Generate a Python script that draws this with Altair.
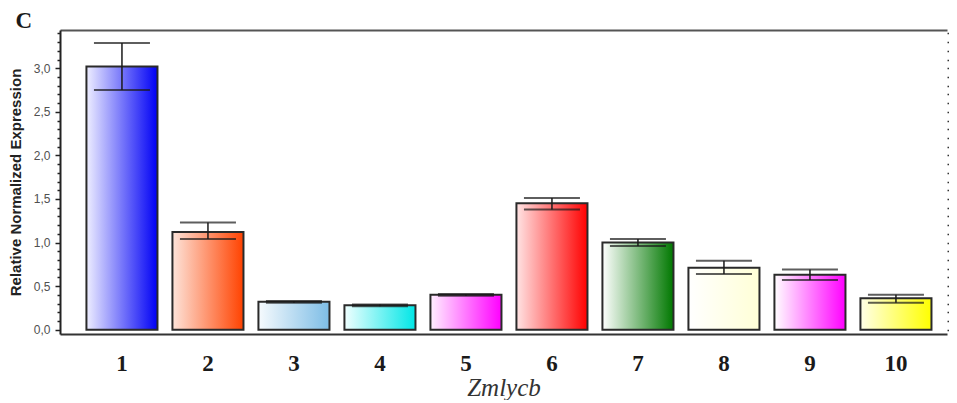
import altair as alt
import pandas as pd

# ---- data ----
categories = ["1", "2", "3", "4", "5", "6", "7", "8", "9", "10"]
means = [3.02, 1.12, 0.32, 0.28, 0.40, 1.45, 1.00, 0.71, 0.63, 0.36]
err_low = [2.75, 1.04, 0.31, 0.27, 0.39, 1.38, 0.96, 0.64, 0.57, 0.31]
err_high = [3.29, 1.23, 0.33, 0.29, 0.41, 1.51, 1.04, 0.79, 0.69, 0.40]

major_ticks = [0.0, 0.5, 1.0, 1.5, 2.0, 2.5, 3.0]
minor_ticks = [0.0, 0.1, 0.2, 0.3, 0.4, 0.5, 0.6, 0.7, 0.8, 0.9,
               1.0, 1.1, 1.2, 1.3, 1.4, 1.5, 1.6, 1.7, 1.8, 1.9,
               2.0, 2.1, 2.2, 2.3, 2.4, 2.5, 2.6, 2.7, 2.8, 2.9,
               3.0, 3.1, 3.2, 3.3, 3.4]

panel_label = "C"

# gradient colours (left -> right) of each bar
grad_start = ["#eeeeff", "#fde4da", "#f6fafd", "#f0ffff", "#fff0ff",
              "#ffe4e4", "#ffffff", "#ffffff", "#ffffff", "#ffffe8"]
grad_end = ["#0000f5", "#ff4200", "#7dbde6", "#00e6e6", "#ff00ff",
            "#ff0000", "#007800", "#ffffd6", "#ff00ff", "#ffff00"]

df = pd.DataFrame({"cat": categories, "mean": means, "lo": err_low, "hi": err_high})

Y_DOMAIN = [-0.05, 3.44]
is_major = "abs(datum.value*2 - round(datum.value*2)) < 0.001"

x_scale = alt.Scale(domain=categories, paddingInner=0.174, paddingOuter=0.244, align=0.63)
y_scale = alt.Scale(domain=Y_DOMAIN, nice=False, zero=False)

x_enc = alt.X(
    "cat:N", sort=categories, scale=x_scale, title="Zmlycb",
    axis=alt.Axis(
        orient="bottom", ticks=False, tickSize=0, labelAngle=0,
        labelFont="Liberation Serif", labelFontSize=23, labelFontWeight="bold",
        labelColor="#1a1a1a", labelPadding=18,
        domainColor="#333333", domainWidth=2,
        titleFont="Liberation Serif", titleFontSize=25, titleFontStyle="italic",
        titleFontWeight="normal", titleColor="#333333",
        titleBaseline="alphabetic", titleY=61,
    ),
)
y_axis = alt.Axis(
    orient="left", values=minor_ticks, grid=False,
    labelExpr=f"{is_major} ? replace(format(datum.value, '.1f'), '.', ',') : ''",
    labelOverlap=False, labelFlush=False,
    labelFont="Liberation Sans", labelFontSize=12, labelColor="#505050",
    labelPadding=5,
    tickColor="#222222", tickWidth=1.5,
    tickSize={"condition": {"test": is_major, "value": 5}, "value": 3},
    domainColor="#222222", domainWidth=2,
    title="Relative Normalized Expression",
    titleFont="Liberation Sans", titleFontSize=15, titleFontWeight="bold",
    titleColor="#222222", titleBaseline="alphabetic", titleX=-40,
)
y_enc = alt.Y("mean:Q", scale=y_scale, axis=y_axis)

base = alt.Chart(df)

bar_layers = []
for cat, c0, c1 in zip(categories, grad_start, grad_end):
    grad = alt.LinearGradient(
        gradient="linear", x1=0, x2=1, y1=0, y2=0,
        stops=[alt.GradientStop(offset=0, color=c0), alt.GradientStop(offset=1, color=c1)],
    )
    bar_layers.append(
        base.transform_filter(alt.datum.cat == cat)
        .mark_bar(fill=grad, stroke="#2a2a2a", strokeWidth=2)
        .encode(x=x_enc, y=y_enc)
    )

err_rule = base.mark_rule(color="#1a1a1a", strokeWidth=1.5).encode(
    x=x_enc, y=alt.Y("lo:Q", scale=y_scale, axis=y_axis), y2="hi:Q"
)
cap_hi = base.mark_tick(color="#1a1a1a", thickness=2, size=56).encode(
    x=x_enc, y=alt.Y("hi:Q", scale=y_scale, axis=y_axis)
)
cap_lo = base.mark_tick(color="#1a1a1a", thickness=2, size=56).encode(
    x=x_enc, y=alt.Y("lo:Q", scale=y_scale, axis=y_axis)
)

inner = alt.layer(*bar_layers, err_rule, cap_hi, cap_lo)

# frame: top border line (carrying the panel letter) and dotted right axis
frame = base.mark_tick(opacity=0).encode(
    x=alt.X("cat:N", sort=categories, scale=alt.Scale(domain=categories),
            title=panel_label,
            axis=alt.Axis(orient="top", ticks=False, labels=False,
                          domainColor="#555555", domainWidth=2,
                          titleFont="Liberation Serif", titleFontSize=23,
                          titleFontWeight="bold", titleColor="#1a1a1a",
                          titleAlign="left", titleAnchor="start",
                          titleBaseline="alphabetic", titleX=-45, titleY=-3)),
    y=alt.Y("mean:Q", scale=alt.Scale(domain=Y_DOMAIN, nice=False, zero=False),
            axis=alt.Axis(orient="right", values=minor_ticks, labels=False, title=None,
                          domain=False, grid=False, tickColor="#333333", tickWidth=1.5,
                          tickSize={"condition": {"test": is_major, "value": 3}, "value": 2})),
)

chart = (
    alt.layer(inner, frame)
    .resolve_scale(x="independent", y="independent")
    .properties(
        width=887, height=304,
        padding={"left": 52, "top": 22, "right": 2, "bottom": 66},
        autosize=alt.AutoSizeParams(type="none"),
    )
    .configure_view(stroke=None)
)

chart.save("out.html", embed_options={"renderer": "svg", "actions": False})
